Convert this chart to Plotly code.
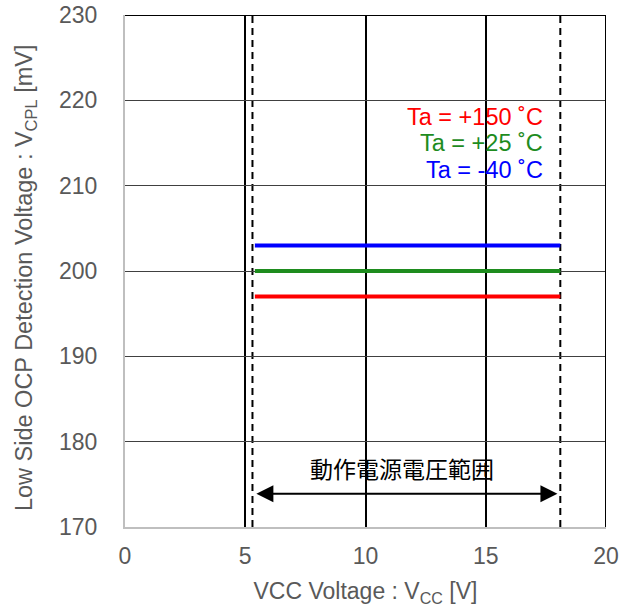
import plotly.graph_objects as go

# Detection voltage vs. supply voltage at three ambient temperatures
vcc_range = [5.4, 18.1]           # V, operating supply range sweep
v_cpl_m40 = [203, 203]            # mV, Ta = -40 °C
v_cpl_25 = [200, 200]             # mV, Ta = +25 °C
v_cpl_150 = [197, 197]            # mV, Ta = +150 °C

series_labels = ["Ta = +150 ˚C", "Ta = +25 ˚C", "Ta = -40 ˚C"]
series_colors = ["#FF0000", "#1E8C1E", "#0000FF"]

op_range_min = 5.3                # V, operating range boundaries
op_range_max = 18.1
op_range_label = "動作電源電圧範囲"

x_ticks = [0, 5, 10, 15, 20]
y_ticks = [170, 180, 190, 200, 210, 220, 230]

FONT = "Liberation Sans, Arial, sans-serif"
GRAY = "#595959"

fig = go.Figure()

for xs, ys, color in [(vcc_range, v_cpl_150, series_colors[0]),
                      (vcc_range, v_cpl_25, series_colors[1]),
                      (vcc_range, v_cpl_m40, series_colors[2])]:
    fig.add_trace(go.Scatter(x=xs, y=ys, mode="lines",
                             line=dict(color=color, width=4),
                             showlegend=False, hoverinfo="skip"))

# Frame: black top and right edges
fig.add_shape(type="line", xref="x", yref="y", x0=0, x1=20, y0=230, y1=230,
              line=dict(color="black", width=2), layer="above")
fig.add_shape(type="line", xref="x", yref="y", x0=20, x1=20, y0=170, y1=230,
              line=dict(color="black", width=2), layer="above")

# Operating range boundaries
for xv in (op_range_min, op_range_max):
    fig.add_shape(type="line", xref="x", yref="y", x0=xv, x1=xv, y0=170, y1=230,
                  line=dict(color="black", width=2, dash="7px,5px"), layer="below")

# Double-headed arrow spanning the operating range
fig.add_annotation(x=op_range_max - 0.12, y=173.9, ax=op_range_min + 0.1, ay=173.9,
                   xref="x", yref="y", axref="x", ayref="y", text="",
                   showarrow=True, arrowhead=2, startarrowhead=2,
                   arrowside="end+start", arrowsize=1.7, startarrowsize=1.7,
                   arrowwidth=2, arrowcolor="black")
fig.add_annotation(x=11.5, y=176.9, xref="x", yref="y", text=op_range_label,
                   showarrow=False,
                   font=dict(family="Noto Sans CJK JP", size=23, color="black"))

# Temperature labels
for label, color, yv in zip(series_labels, series_colors, [218.0, 215.0, 211.8]):
    fig.add_annotation(x=17.48, y=yv, xref="x", yref="y", text=label,
                       showarrow=False, xanchor="right", yanchor="middle",
                       font=dict(family=FONT, size=23.5, color=color))

# Vertical axis title, set slightly below the plot's mid-height
fig.add_annotation(x=-0.208, y=0.488, xref="paper", yref="paper",
                   text="Low Side OCP Detection Voltage : V<sub>CPL</sub> [mV]",
                   textangle=-90, showarrow=False, xanchor="center", yanchor="middle",
                   font=dict(family=FONT, size=23.5, color=GRAY))

fig.update_xaxes(range=[0, 20], tickvals=x_ticks, ticktext=[str(v) for v in x_ticks],
                 showgrid=True, gridcolor="black", gridwidth=2,
                 zeroline=False, showline=True, linecolor="#BFBFBF", linewidth=2,
                 ticks="", ticklabelstandoff=7, automargin=False,
                 tickfont=dict(family=FONT, size=23, color=GRAY),
                 title=dict(text="VCC Voltage : V<sub>CC</sub> [V]", standoff=15,
                            font=dict(family=FONT, size=23, color=GRAY)))
fig.update_yaxes(range=[170, 230], tickvals=y_ticks, ticktext=[str(v) for v in y_ticks],
                 showgrid=True, gridcolor="#404040", gridwidth=1,
                 zeroline=False, showline=True, linecolor="#BFBFBF", linewidth=2,
                 ticks="", ticklabelstandoff=21, automargin=False,
                 tickfont=dict(family=FONT, size=23, color=GRAY))

fig.update_layout(width=633, height=612,
                  margin=dict(l=125, r=27, t=15, b=85),
                  paper_bgcolor="white", plot_bgcolor="white",
                  showlegend=False)

fig.write_html("out.html")
